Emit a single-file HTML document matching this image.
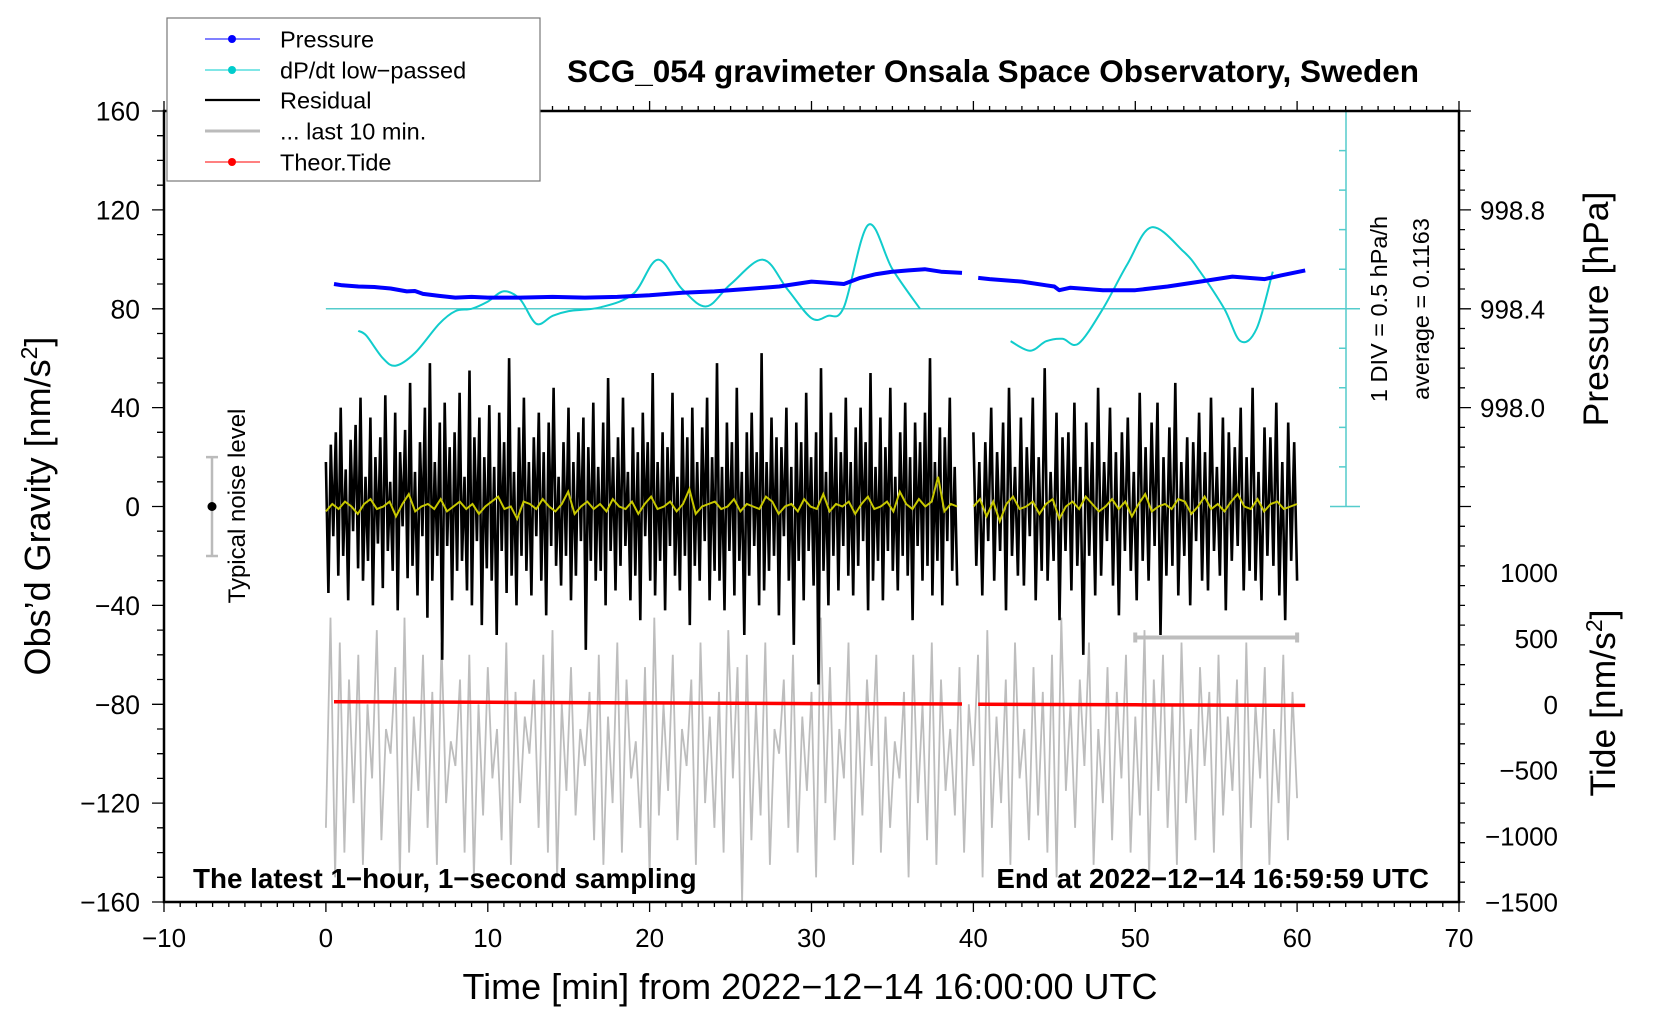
<!DOCTYPE html>
<html><head><meta charset="utf-8"><style>
html,body{margin:0;padding:0;background:#fff;}
svg{display:block;font-family:"Liberation Sans",Arial,sans-serif;}
</style></head><body>
<svg id="chart" width="1660" height="1020" viewBox="0 0 1660 1020" xmlns="http://www.w3.org/2000/svg">
<rect x="0" y="0" width="1660" height="1020" fill="#fff"/>
<g id="marks"></g>
<g id="axes"></g>
<text x="993" y="82" font-size="31.5" font-weight="bold" text-anchor="middle">SCG_054 gravimeter Onsala Space Observatory, Sweden</text>
<text x="810" y="999" font-size="36" text-anchor="middle">Time [min] from 2022−12−14 16:00:00 UTC</text>
<text transform="translate(50,506) rotate(-90)" font-size="36" text-anchor="middle">Obs’d Gravity [nm/s<tspan baseline-shift="super" font-size="23">2</tspan>]</text>
<text transform="translate(1608,309) rotate(-90)" font-size="35.5" text-anchor="middle">Pressure [hPa]</text>
<text transform="translate(1615,703) rotate(-90)" font-size="35.5" text-anchor="middle">Tide [nm/s<tspan baseline-shift="super" font-size="23">2</tspan>]</text>
<text x="193" y="888" font-size="27.8" font-weight="bold">The latest 1−hour, 1−second sampling</text>
<text x="1429" y="888" font-size="27.8" font-weight="bold" text-anchor="end">End at 2022−12−14 16:59:59 UTC</text>
<text transform="translate(245,506) rotate(-90)" font-size="24" text-anchor="middle">Typical noise level</text>
<text transform="translate(1387,309) rotate(-90)" font-size="23.5" text-anchor="middle">1 DIV = 0.5 hPa/h</text>
<text transform="translate(1429,309) rotate(-90)" font-size="23.5" text-anchor="middle">average = 0.1163</text>
<g>
<rect x="167" y="18" width="373" height="163" fill="#fff" stroke="#777" stroke-width="1.2"/>
<g><line x1="205" y1="39" x2="260" y2="39" stroke="#00f" stroke-width="1"/><circle cx="232" cy="39" r="4" fill="#00f"/><text x="280" y="47.5" font-size="23.5">Pressure</text></g>
<g><line x1="205" y1="70" x2="260" y2="70" stroke="#0cc" stroke-width="1"/><circle cx="232" cy="70" r="4" fill="#0cc"/><text x="280" y="78.5" font-size="23.5">dP/dt low−passed</text></g>
<g><line x1="205" y1="100" x2="260" y2="100" stroke="#000" stroke-width="2.2"/><text x="280" y="108.5" font-size="23.5">Residual</text></g>
<g><line x1="205" y1="131" x2="260" y2="131" stroke="#bbb" stroke-width="3"/><text x="280" y="139.5" font-size="23.5">... last 10 min.</text></g>
<g><line x1="205" y1="162" x2="260" y2="162" stroke="#f00" stroke-width="1"/><circle cx="232" cy="162" r="4" fill="#f00"/><text x="280" y="170.5" font-size="23.5">Theor.Tide</text></g>
</g>
</svg>
<script>
// ---- data ----
const xTicks=[-10,0,10,20,30,40,50,60,70];
const yTicks=[160,120,80,40,0,-40,-80,-120,-160];
const pressureTicks=[998.8,998.4,998.0];
const tideTicks=[1000,500,0,-500,-1000,-1500];
const pressureTimes=[0.5,1,2,3,4,5,5.5,6,7,8,9,10,12,14,16,18,20,22,24,26,28,30,31,32,33,34,35,36,37,38,39.3];
const pressureVals=[998.50,998.495,998.49,998.488,998.482,998.47,998.472,998.46,998.452,998.445,998.448,998.445,998.445,998.448,998.445,998.448,998.455,998.465,998.47,998.48,998.49,998.51,998.505,998.50,998.525,998.54,998.55,998.555,998.56,998.55,998.545];
const pressureTimes2=[40.3,41,43,44.5,45,45.3,46,48,50,52,54,56,57,58,59,60.5];
const pressureVals2=[998.525,998.52,998.51,998.495,998.49,998.475,998.485,998.475,998.475,998.49,998.51,998.53,998.525,998.52,998.535,998.555];
const dpdtAvg=0.1163;
const dpdtTimes=[2,2.5,3.5,4.3,5.5,7,8,9,10,11,12,13,14,15,17,19,20.5,22,23.5,25,27,28.5,30,31,32,33.5,35,36.7];
const dpdtDev=[-0.28,-0.34,-0.62,-0.72,-0.56,-0.19,-0.03,0.0,0.09,0.22,0.12,-0.19,-0.09,-0.03,0.02,0.19,0.62,0.25,0.03,0.31,0.62,0.25,-0.12,-0.09,0.02,1.06,0.5,0.0];
const dpdtTimes2=[42.3,43.5,44.5,45.5,46.5,48,49.5,51,53,54,55.5,56.5,57.5,58.5];
const dpdtDev2=[-0.41,-0.53,-0.41,-0.38,-0.44,0.0,0.56,1.03,0.72,0.47,0.0,-0.41,-0.25,0.47];
const tideTimes=[0.5,10,20,30,39.3,40.3,50,60.5];
const tideVals=[19,15,10,5,2,0,-4,-9];
const resid1=[18,-35,25,-12,30,-28,40,-20,15,-38,27,-10,33,-25,44,-30,12,-22,36,-40,20,-15,28,-33,45,-18,10,-26,38,-42,22,-8,31,-29,50,-24,14,-36,26,-12,40,-45,58,-30,18,-20,34,-62,42,-16,24,-38,30,-26,46,-22,12,-34,55,-40,28,-14,36,-48,20,-25,41,-30,16,-52,38,-18,26,-35,60,-28,14,-40,32,-20,44,-26,18,-36,28,-12,38,-30,22,-44,34,-16,48,-24,12,-32,26,-20,40,-38,18,-28,30,-14,36,-58,24,-22,42,-30,16,-26,34,-40,52,-18,20,-34,28,-24,44,-16,14,-38,32,-28,22,-46,38,-12,26,-30,54,-36,18,-22,30,-42,24,-16,46,-28,12,-34,36,-20,28,-48,40,-24,18,-30,32,-14,44,-38,20,-26,58,-30,16,-42,34,-18,26,-36,48,-22,14,-52,30,-28,38,-16,22,-40,62,-34,18,-26,36,-20,28,-44,24,-12,40,-30,16,-56,34,-22,26,-38,46,-18,20,-32,30,-72,56,-26,14,-40,38,-20,28,-34,22,-16,44,-28,18,-36,32,-24,40,-14,26,-42,54,-30,16,-22,36,-38,24,-18,48,-26,12,-34,30,-20,42,-28,20,-46,34,-16,26,-30,38,-24,60,-36,18,-22,32,-40,28,-14,44,-26,16,-32];
const resid2=[30,-24,18,-36,26,-14,40,-30,22,-18,34,-42,48,-20,16,-28,36,-32,24,-12,44,-38,20,-26,56,-30,14,-22,38,-46,28,-18,30,-34,42,-24,16,-60,34,-20,26,-36,48,-28,18,-14,40,-32,22,-44,30,-18,36,-26,14,-38,46,-22,24,-30,34,-16,42,-52,20,-28,32,-24,50,-36,18,-20,28,-40,26,-14,38,-30,22,-34,44,-18,16,-28,36,-42,30,-22,24,-16,40,-34,20,-26,48,-30,14,-38,32,-20,28,-24,42,-36,18,-46,34,-22,26,-30];
const residRange1=[0,39];
const residRange2=[40,60];
const low1=[-2,1,-1,2,0,-3,1,3,-1,0,2,-4,1,5,-2,0,1,-1,3,-2,0,2,-1,1,-3,0,2,4,-1,0,-5,2,1,-1,3,0,-2,1,6,-3,0,2,-1,1,-2,3,0,-1,2,-3,1,4,-1,0,2,-2,1,7,-3,0,1,2,-1,0,3,-2,1,0,-1,4,2,-3,0,1,-2,3,0,-1,5,-2,1,0,2,-3,1,4,-1,0,2,-2,6,1,-1,3,0,2,12,-2,1,0];
const low2=[0,3,-4,2,-6,1,4,-1,0,2,-3,1,3,-5,0,2,-1,4,1,-2,0,3,-1,2,-4,1,5,-2,0,1,-1,3,2,-3,0,4,-1,1,-2,2,5,0,-1,3,-2,1,2,-1,0,1];
const gray=[-130,-45,-150,-55,-140,-70,-120,-60,-145,-80,-110,-50,-135,-90,-100,-65,-150,-45,-140,-85,-115,-60,-130,-75,-145,-55,-120,-95,-105,-70,-140,-60,-150,-80,-125,-65,-110,-90,-135,-55,-145,-75,-120,-85,-100,-70,-130,-60,-140,-50,-150,-80,-115,-65,-125,-90,-105,-75,-135,-60,-145,-85,-120,-55,-140,-70,-110,-95,-130,-65,-150,-45,-125,-80,-115,-60,-135,-90,-105,-70,-145,-55,-120,-85,-130,-75,-140,-50,-110,-65,-160,-60,-135,-80,-125,-55,-145,-90,-100,-70,-130,-60,-140,-85,-115,-75,-150,-45,-120,-65,-135,-90,-110,-55,-145,-80,-125,-70,-105,-60,-140,-85,-130,-95,-110,-75,-150,-60,-120,-80,-135,-55,-145,-70,-115,-90,-125,-65,-140,-80,-105,-60,-150,-50,-130,-85,-120,-70,-145,-55,-110,-90,-135,-65,-125,-75,-140,-60,-150,-45,-115,-80,-130,-70,-105,-55,-145,-90,-120,-65,-135,-75,-110,-60,-140,-85,-125,-50,-150,-70,-115,-60,-130,-80,-145,-55,-120,-90,-135,-65,-105,-75,-140,-60,-125,-85,-115,-70,-150,-55,-130,-80,-110,-65,-145,-90,-120,-60,-135,-75,-118];
const grayRange=[0,60];

// ---- scales ----
const L=164,R=1459,T=111,B=902;
function xs(t){return L+(t+10)/80*(R-L);}
function yg(g){return T+(160-g)/320*(B-T);}
function yp(p){return yg(80+(p-998.4)*100);}
function yt(v){return yg(-80+v*80/1500);}
function yd(dev){return yg(80+dev*32);}
const NS='http://www.w3.org/2000/svg';
const marks=document.getElementById('marks'),axes=document.getElementById('axes');
function mk(tag,attrs,parent){const e=document.createElementNS(NS,tag);for(const k in attrs)e.setAttribute(k,attrs[k]);parent.appendChild(e);return e;}
function poly(pts){return pts.map(p=>p[0].toFixed(1)+','+p[1].toFixed(1)).join(' ');}
function smooth(pts){let d='M'+pts[0][0]+','+pts[0][1];for(let i=0;i<pts.length-1;i++){const p0=pts[Math.max(0,i-1)],p1=pts[i],p2=pts[i+1],p3=pts[Math.min(pts.length-1,i+2)];d+=' C'+(p1[0]+(p2[0]-p0[0])/6).toFixed(1)+','+(p1[1]+(p2[1]-p0[1])/6).toFixed(1)+' '+(p2[0]-(p3[0]-p1[0])/6).toFixed(1)+','+(p2[1]-(p3[1]-p1[1])/6).toFixed(1)+' '+p2[0].toFixed(1)+','+p2[1].toFixed(1);}return d;}
function ser(arr,rng,yf){return arr.map((v,i)=>[xs(rng[0]+i*(rng[1]-rng[0])/(arr.length-1)),yf(v)]);}

let e=mk('polyline',{points:poly(ser(gray,grayRange,yg)),fill:'none',stroke:'#bdbdbd','stroke-width':1.8},marks);


e=mk('polyline',{points:poly(ser(resid1,residRange1,yg)),fill:'none',stroke:'#000','stroke-width':2.6},marks);


e=mk('polyline',{points:poly(ser(resid2,residRange2,yg)),fill:'none',stroke:'#000','stroke-width':2.6},marks);


e=mk('polyline',{points:poly(ser(low1,residRange1,yg)),fill:'none',stroke:'#c8c800','stroke-width':2},marks);


e=mk('polyline',{points:poly(ser(low2,residRange2,yg)),fill:'none',stroke:'#c8c800','stroke-width':2},marks);


e=mk('polyline',{points:poly(tideTimes.slice(0,5).map((t,i)=>[xs(t),yt(tideVals[i])])),fill:'none',stroke:'#f00','stroke-width':3.5},marks);


e=mk('polyline',{points:poly(tideTimes.slice(5).map((t,i)=>[xs(t),yt(tideVals[i+5])])),fill:'none',stroke:'#f00','stroke-width':3.5},marks);


e=mk('line',{x1:xs(0),y1:yg(80),x2:1360,y2:yg(80),stroke:'#5cc','stroke-width':1.5},marks);


e=mk('path',{d:smooth(dpdtTimes.map((t,i)=>[xs(t),yd(dpdtDev[i])])),fill:'none',stroke:'#1cc','stroke-width':2},marks);


e=mk('path',{d:smooth(dpdtTimes2.map((t,i)=>[xs(t),yd(dpdtDev2[i])])),fill:'none',stroke:'#1cc','stroke-width':2},marks);


e=mk('polyline',{points:poly(pressureTimes.map((t,i)=>[xs(t),yp(pressureVals[i])])),fill:'none',stroke:'#00f','stroke-width':4,'stroke-linejoin':'round'},marks);


e=mk('polyline',{points:poly(pressureTimes2.map((t,i)=>[xs(t),yp(pressureVals2[i])])),fill:'none',stroke:'#00f','stroke-width':4,'stroke-linejoin':'round'},marks);


e=mk('path',{d:`M${xs(50)},${yg(-53)} H${xs(60)} M${xs(50)},${yg(-53)-5} v10 M${xs(60)},${yg(-53)-5} v10`,stroke:'#bdbdbd','stroke-width':4,fill:'none'},marks);


e=mk('path',{d:`M212,${yg(20)} V${yg(-20)} M206,${yg(20)} h12 M206,${yg(-20)} h12`,stroke:'#bbb','stroke-width':2.5,fill:'none'},marks);


e=mk('circle',{cx:212,cy:yg(0),r:4.5,fill:'#000'},marks);


let dp='M1346,'+T+' V'+yg(0)+' M1330,'+yg(0)+' H1360';
for(let g=16;g<=160;g+=16)dp+=' M1339,'+yg(g).toFixed(1)+' H1346';
e=mk('path',{d:dp,stroke:'#5cc','stroke-width':1.5,fill:'none'},marks);



e=mk('rect',{x:L,y:T,width:R-L,height:B-T,fill:'none',stroke:'#000','stroke-width':2.5},axes);


let tk='';
for(let t=-10;t<=70;t++){const x=xs(t).toFixed(1);const len=t%10===0?10:5;tk+=` M${x},${B} v${len} M${x},${T} v${-len}`;}
for(let g=-160;g<=160;g+=10){const y=yg(g).toFixed(1);const len=g%40===0?12:7;tk+=` M${L},${y} h${-len}`;}
for(let g=-160;g<=160;g+=8){const y=yg(g).toFixed(1);const len=(g-80)%40===0&&g>=0?12:6;tk+=` M${R},${y} h${len}`;}
e=mk('path',{d:tk,stroke:'#000','stroke-width':1.3,fill:'none'},axes);


xTicks.forEach(t=>{const l=mk('text',{x:xs(t),y:947,'font-size':26,'text-anchor':'middle'},axes);l.textContent=String(t).replace('-','−');

});
yTicks.forEach(g=>{const l=mk('text',{x:140,y:yg(g)+9.5,'font-size':26.5,'text-anchor':'end'},axes);l.textContent=String(g).replace('-','−');

});
pressureTicks.forEach(p=>{const l=mk('text',{x:1480,y:yp(p)+9.5,'font-size':26},axes);l.textContent=p.toFixed(1);

});
tideTicks.forEach(v=>{const l=mk('text',{x:1558,y:yt(v)+9.5,'font-size':26,'text-anchor':'end'},axes);l.textContent=String(v).replace('-','−');

});
</script>
</body></html>
